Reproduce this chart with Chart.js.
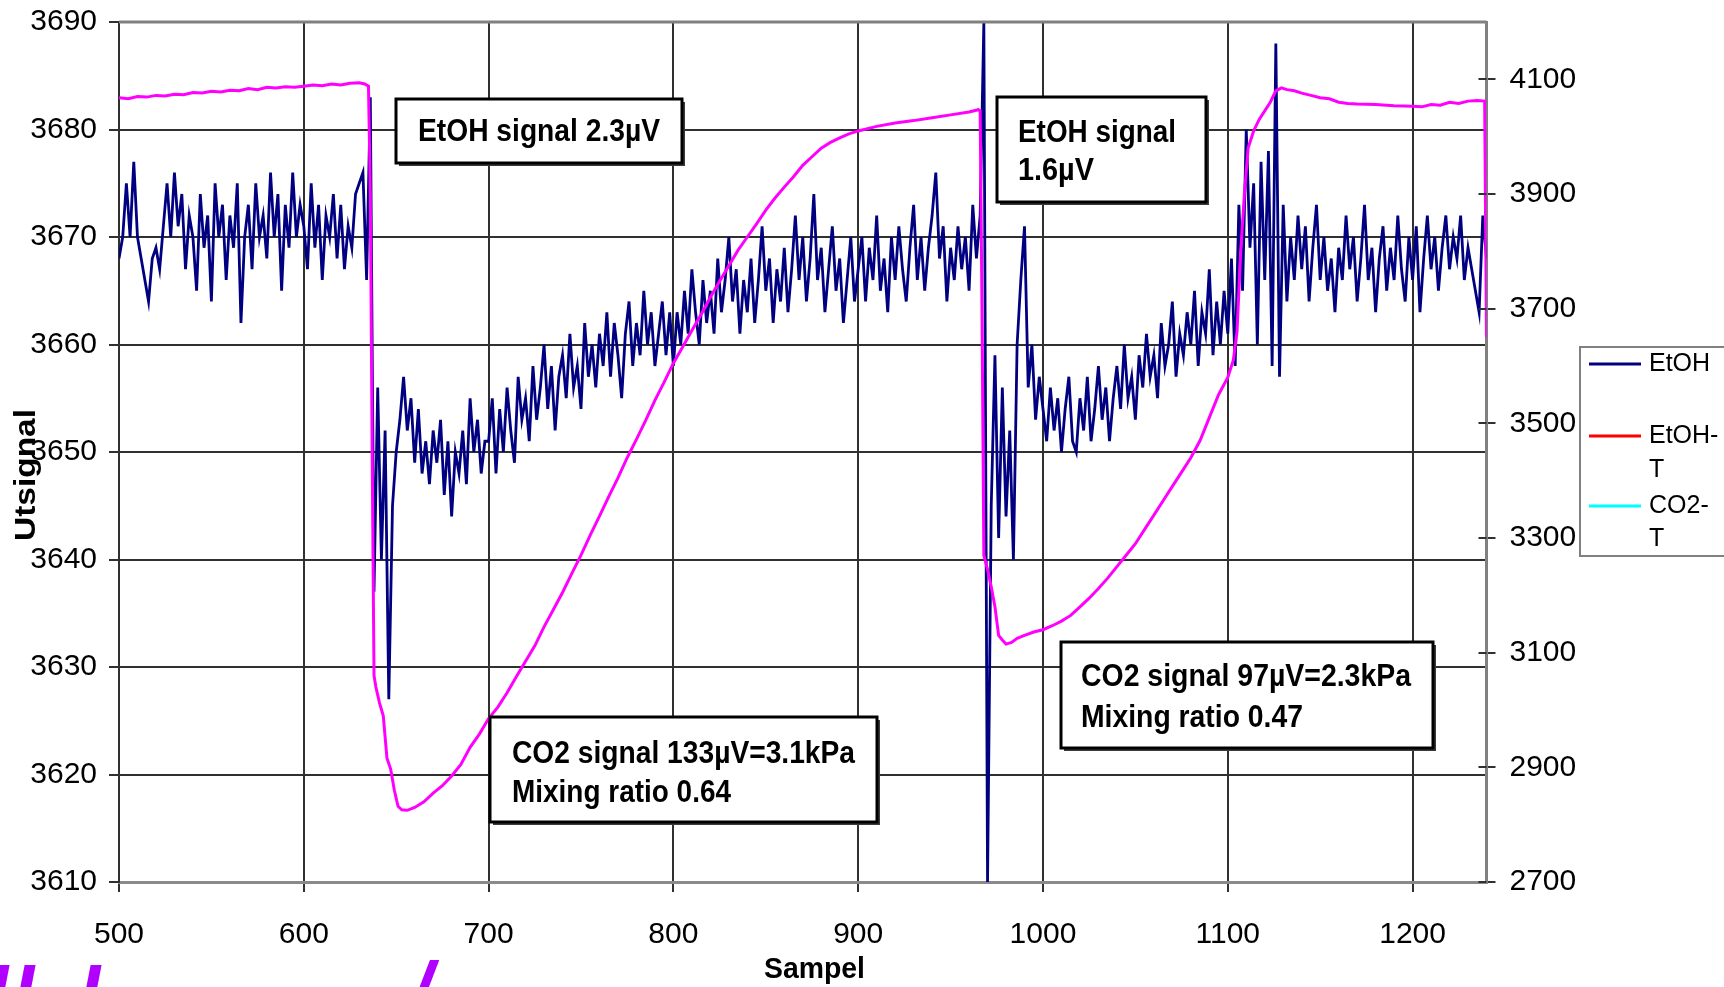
<!DOCTYPE html>
<html>
<head>
<meta charset="utf-8">
<script src="https://cdn.jsdelivr.net/npm/chart.js@4.4.0/dist/chart.umd.min.js"></script>
<style>
  html, body { margin: 0; padding: 0; background: #fff; }
  #wrap { width: 1724px; height: 987px; overflow: hidden; }
</style>
</head>
<body>
<div id="wrap"><canvas id="signal-chart" width="1724" height="987"></canvas></div>
<script>
// EtOH output (left axis), one reading every 2nd sample starting at sample 500
const etohStart = 500;
const etohStep = 2;
const etohValues = [
  3668, 3670, 3675, 3670, 3677, 3670, 3668, 3666, 3664, 3668,
  3669, 3667, 3671, 3675, 3670, 3676, 3671, 3674, 3667, 3672,
  3670, 3665, 3674, 3669, 3672, 3664, 3675, 3670, 3673, 3666,
  3672, 3669, 3675, 3662, 3670, 3673, 3667, 3675, 3670, 3672,
  3668, 3676, 3670, 3674, 3665, 3673, 3669, 3676, 3670, 3673,
  3671, 3667, 3675, 3669, 3673, 3666, 3672, 3670, 3674, 3668,
  3673, 3667, 3671, 3669, 3674, 3675, 3676, 3666,
  // 636 - 648
  3683, 3637, 3656, 3640, 3652, 3627, 3645,
  // 650 - 698
  3650, 3653, 3657, 3652, 3655, 3649, 3654, 3648, 3651, 3647,
  3652, 3649, 3653, 3646, 3651, 3644, 3650, 3648, 3652, 3647,
  3655, 3650, 3653, 3648, 3651,
  // 700 - 798
  3651, 3655, 3648, 3654, 3650, 3656, 3652, 3649, 3657, 3653,
  3655, 3651, 3658, 3653, 3656, 3660, 3654, 3658, 3652, 3657,
  3659, 3655, 3661, 3656, 3658, 3654, 3662, 3657, 3660, 3656,
  3661, 3658, 3663, 3657, 3662, 3659, 3655, 3661, 3664, 3658,
  3662, 3659, 3665, 3660, 3663, 3658, 3661, 3664, 3659, 3663,
  // 800 - 898
  3658, 3663, 3660, 3665, 3661, 3667, 3663, 3660, 3666, 3662,
  3665, 3661, 3668, 3663, 3666, 3670, 3664, 3667, 3661, 3666,
  3663, 3668, 3662, 3666, 3671, 3665, 3668, 3662, 3667, 3664,
  3669, 3663, 3667, 3672, 3666, 3670, 3664, 3668, 3674, 3666,
  3669, 3663, 3667, 3671, 3665, 3668, 3662, 3666, 3670, 3664,
  // 900 - 966
  3667, 3670, 3664, 3669, 3666, 3672, 3665, 3668, 3663, 3670,
  3666, 3671, 3667, 3664, 3669, 3673, 3666, 3670, 3665, 3669,
  3672, 3676, 3668, 3671, 3664, 3669, 3666, 3671, 3667, 3670,
  3665, 3673, 3668, 3672,
  // 968 - 998
  3690, 3610, 3645, 3659, 3642, 3656, 3644, 3652, 3640, 3660,
  3666, 3671, 3656, 3660, 3653, 3657,
  // 1000 - 1098
  3654, 3651, 3656, 3652, 3655, 3650, 3654, 3657, 3651, 3650,
  3655, 3652, 3657, 3651, 3654, 3658, 3653, 3656, 3651, 3655,
  3658, 3654, 3660, 3655, 3657, 3653, 3659, 3656, 3661, 3657,
  3659, 3655, 3662, 3658, 3660, 3664, 3657, 3661, 3659, 3663,
  3660, 3665, 3658, 3663, 3661, 3667, 3659, 3664, 3660, 3665,
  // 1100 - 1138
  3661, 3668, 3658, 3673, 3665, 3680, 3669, 3675, 3660, 3677,
  3666, 3678, 3658, 3688, 3657, 3673, 3664, 3670, 3666, 3672,
  // 1140 - 1240
  3667, 3671, 3664, 3669, 3673, 3666, 3670, 3665, 3668, 3663,
  3669, 3666, 3672, 3667, 3670, 3664, 3668, 3673, 3666, 3669,
  3663, 3668, 3671, 3665, 3669, 3666, 3672, 3667, 3664, 3670,
  3666, 3671, 3663, 3668, 3672, 3667, 3670, 3665, 3669, 3672,
  3667, 3670, 3668, 3672, 3666, 3669, 3667, 3665, 3663, 3672,
  3668
];

// CO2 trace (magenta, right axis)
const co2Samples = [
  500, 505, 510, 515, 520, 525, 530, 535, 540, 545, 550, 555, 560, 565, 570, 575,
  580, 585, 590, 595, 600, 605, 610, 615, 620, 625, 630, 633, 635, 636, 637, 638,
  639, 641, 643, 645, 647, 649, 651, 653, 656, 660, 665, 670, 675, 680, 685, 690,
  695, 700, 705, 710, 715, 720, 725, 730, 735, 740, 745, 750, 755, 760, 765, 770,
  775, 780, 785, 790, 795, 800, 805, 810, 815, 820, 825, 830, 835, 840, 845, 850,
  855, 860, 865, 870, 875, 880, 885, 890, 895, 900, 910, 920, 930, 940, 950, 960,
  965, 966, 967, 968, 970, 972, 974, 976, 978, 980, 983, 986, 990, 995, 1000, 1005,
  1010, 1015, 1020, 1025, 1030, 1035, 1040, 1045, 1050, 1055, 1060, 1065, 1070, 1075, 1080, 1085,
  1090, 1095, 1100, 1103, 1105, 1107, 1109, 1111, 1114, 1117, 1120, 1123, 1126, 1129, 1132, 1136,
  1140, 1145, 1150, 1155, 1160, 1165, 1170, 1180, 1190, 1200, 1205, 1210, 1215, 1220, 1225, 1230,
  1235, 1239, 1240
];
const co2Values = [
  4068, 4066, 4070, 4069, 4072, 4071, 4074, 4073, 4077, 4076, 4079, 4078, 4081, 4080, 4084, 4082,
  4086, 4085, 4087, 4086, 4088, 4090, 4089, 4092, 4090, 4093, 4094, 4092, 4088, 3900, 3450, 3060,
  3040, 3012, 2990, 2916, 2897, 2860, 2832, 2826, 2825, 2830, 2840, 2855, 2868, 2885, 2905, 2935,
  2958, 2985, 3005, 3030, 3058, 3085, 3112, 3145, 3175, 3205, 3238, 3270, 3305, 3338, 3372, 3405,
  3440, 3472, 3505, 3540, 3572, 3605, 3633, 3662, 3690, 3720, 3748, 3775, 3802, 3825, 3848, 3872,
  3893, 3912, 3930, 3950, 3965, 3980, 3990, 3998, 4005, 4010, 4018, 4024, 4028, 4033, 4038, 4043,
  4047, 4045, 3700, 3270, 3245, 3215, 3180, 3130, 3122, 3115, 3118, 3125, 3130, 3136, 3140, 3147,
  3155, 3165, 3180, 3195, 3212, 3230, 3250, 3270, 3290, 3315, 3340, 3365, 3390, 3415, 3440, 3470,
  3510, 3550, 3580, 3610, 3660, 3800, 3900, 3980, 4010, 4030, 4045, 4060, 4080, 4085, 4082, 4080,
  4076, 4072, 4068, 4066, 4060, 4058, 4057, 4056, 4054, 4053, 4052, 4056, 4055, 4060, 4058, 4062,
  4063, 4062, 3650
];

const xTicks = [500, 600, 700, 800, 900, 1000, 1100, 1200];
const leftTicks = [3610, 3620, 3630, 3640, 3650, 3660, 3670, 3680, 3690];
const rightTicks = [2700, 2900, 3100, 3300, 3500, 3700, 3900, 4100];

const legendNames = ["EtOH", "EtOH-T", "CO2-T"];
const legendColors = ["#000080", "#ff0000", "#00ffff"];

const FONT = '"Liberation Sans", Arial, sans-serif';

const etohPoints = etohValues.map((v, i) => ({ x: etohStart + i * etohStep, y: v }));
const co2Points = co2Samples.map((s, i) => ({ x: s, y: co2Values[i] }));

// draw text squeezed/stretched to a given width (the source uses a narrow bold face)
const fitText = (c, text, x, y, width) => {
  const w = c.measureText(text).width;
  c.save();
  c.translate(x, y);
  c.scale(width / w, 1);
  c.textAlign = "left";
  c.fillText(text, 0, 0);
  c.restore();
};

const notes = [
  { box: [396, 99, 286, 64], lines: [["EtOH signal 2.3µV", 418, 141, 242]] },
  { box: [997, 97, 209, 105], lines: [["EtOH signal", 1018, 142, 158], ["1.6µV", 1018, 180, 76]] },
  { box: [490, 717, 387, 105], lines: [["CO2 signal 133µV=3.1kPa", 512, 763, 343], ["Mixing ratio 0.64", 512, 802, 219]] },
  { box: [1061, 642, 372, 106], lines: [["CO2 signal 97µV=2.3kPa", 1081, 686, 330], ["Mixing ratio 0.47", 1081, 727, 222]] },
];

const decorPlugin = {
  id: "decor",
  afterDatasetsDraw(chart) {
    const c = chart.ctx;
    const a = chart.chartArea;
    c.save();
    // top frame line
    c.strokeStyle = "#808080";
    c.lineWidth = 3;
    c.beginPath();
    c.moveTo(a.left, a.top);
    c.lineTo(a.right, a.top);
    c.stroke();

    // right axis ticks reach a little into the plot as well
    const y1 = chart.scales.y1;
    c.strokeStyle = "#303030";
    c.lineWidth = 2;
    rightTicks.forEach((v) => {
      const py = Math.round(y1.getPixelForValue(v));
      c.beginPath();
      c.moveTo(a.right - 8, py);
      c.lineTo(a.right, py);
      c.stroke();
    });

    // annotation boxes
    notes.forEach((n) => {
      const [bx, by, bw, bh] = n.box;
      c.fillStyle = "#3a3a3a";
      c.fillRect(bx + 3, by + 3, bw, bh);
      c.fillStyle = "#fff";
      c.fillRect(bx, by, bw, bh);
      c.strokeStyle = "#000";
      c.lineWidth = 3;
      c.strokeRect(bx, by, bw, bh);
      c.fillStyle = "#000";
      c.font = "bold 32px " + FONT;
      c.textBaseline = "alphabetic";
      n.lines.forEach(([t, x, y, w]) => fitText(c, t, x, y, w));
    });
    c.restore();
  },
  afterDraw(chart) {
    const c = chart.ctx;
    c.save();
    c.fillStyle = "#000";
    c.textBaseline = "alphabetic";

    // axis titles
    c.font = "bold 29px " + FONT;
    fitText(c, "Sampel", 764, 978, 101);
    c.save();
    c.translate(35, 541);
    c.rotate(-Math.PI / 2);
    fitText(c, "Utsignal", 0, 0, 132);
    c.restore();

    // legend (partly cut by the right edge)
    c.strokeStyle = "#808080";
    c.lineWidth = 2;
    c.strokeRect(1580, 347, 160, 209);
    c.font = "25px " + FONT;
    c.textBaseline = "middle";
    const rows = [[364], [436, 470], [506, 539]];
    legendNames.forEach((name, i) => {
      const y = rows[i][0];
      c.strokeStyle = legendColors[i];
      c.lineWidth = 3;
      c.beginPath();
      c.moveTo(1589, y);
      c.lineTo(1641, y);
      c.stroke();
      c.fillStyle = "#000";
      if (rows[i].length > 1) {
        const parts = name.split("-");
        c.fillText(parts[0] + "-", 1649, y);
        c.fillText(parts[1], 1649, rows[i][1]);
      } else {
        c.fillText(name, 1649, y);
      }
    });

    // clipped purple lettering at the bottom edge
    c.fillStyle = "#b000ff";
    c.font = "italic bold 80px " + FONT;
    c.textBaseline = "alphabetic";
    c.fillText("l", -14, 1023);
    c.fillText("l", 12, 1023);
    c.fillText("l", 78, 1023);
    c.fillText("/", 410, 1018);
    c.restore();
  },
};

const tickFont = { family: FONT, size: 30 };
const plainLabel = (v) => String(v);
const noEdgePadding = (s) => { s.paddingTop = 0; s.paddingBottom = 0; };

new Chart(document.getElementById("signal-chart"), {
  type: "line",
  data: {
    datasets: [
      { label: "CO2", data: co2Points, yAxisID: "y1", borderColor: "#ff00ff", borderWidth: 3, pointRadius: 0, tension: 0 },
      { label: "EtOH", data: etohPoints, yAxisID: "y", borderColor: "#000080", borderWidth: 2.8, pointRadius: 0, tension: 0 },
      { label: "EtOH-T", data: [], yAxisID: "y", borderColor: "#ff0000", pointRadius: 0 },
      { label: "CO2-T", data: [], yAxisID: "y", borderColor: "#00ffff", pointRadius: 0 },
    ],
  },
  options: {
    responsive: false,
    animation: false,
    layout: { padding: { top: 22, left: 0, right: 0, bottom: 0 } },
    plugins: { legend: { display: false }, tooltip: { enabled: false } },
    scales: {
      x: {
        type: "linear",
        min: 500,
        max: 1240,
        afterBuildTicks: (axis) => { axis.ticks = xTicks.map((v) => ({ value: v })); },
        afterFit: (s) => { s.height = 105; s.paddingLeft = 0; s.paddingRight = 0; },
        grid: { color: "#303030", lineWidth: 2, tickLength: 10, tickColor: "#303030" },
        border: { color: "#8a8a8a", width: 3 },
        ticks: { font: tickFont, color: "#000", padding: 25, maxRotation: 0, callback: plainLabel },
      },
      y: {
        position: "left",
        min: 3610,
        max: 3690,
        afterBuildTicks: (axis) => { axis.ticks = leftTicks.map((v) => ({ value: v })); },
        afterFit: (s) => { s.width = 119; noEdgePadding(s); },
        grid: { color: "#303030", lineWidth: 2, tickLength: 10, tickColor: "#303030" },
        border: { color: "#303030", width: 2 },
        ticks: { font: tickFont, color: "#000", padding: 12, callback: plainLabel },
      },
      y1: {
        position: "right",
        min: 2700,
        max: 4200,
        afterBuildTicks: (axis) => { axis.ticks = rightTicks.map((v) => ({ value: v })); },
        afterFit: (s) => { s.width = 237.5; noEdgePadding(s); },
        grid: { drawOnChartArea: false, tickLength: 9, tickColor: "#303030", lineWidth: 2 },
        border: { color: "#808080", width: 3 },
        ticks: { font: tickFont, color: "#000", padding: 14, callback: plainLabel },
      },
    },
  },
  plugins: [decorPlugin],
});
</script>
</body>
</html>
